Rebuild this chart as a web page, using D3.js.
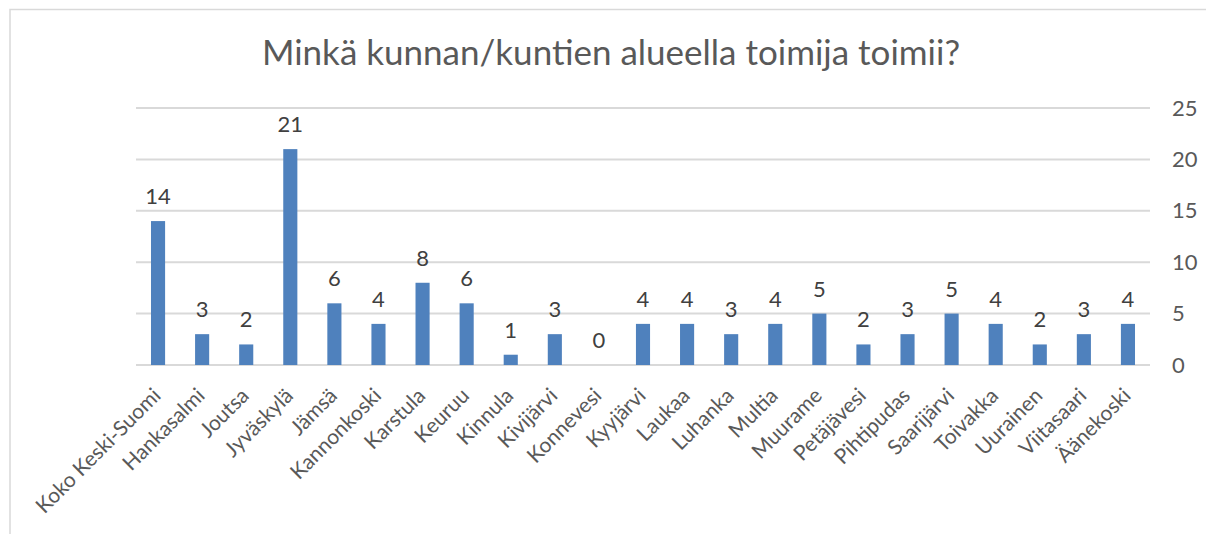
<!DOCTYPE html>
<html>
<head>
<meta charset="utf-8">
<script src="https://cdnjs.cloudflare.com/ajax/libs/d3/7.8.5/d3.min.js"></script>
<style>
  body { margin: 0; background: #fff; }
  text { font-family: Lato, "Open Sans", sans-serif; }
</style>
</head>
<body>
<div id="chart"></div>
<script>
var svgWidth = 1206;
var svgHeight = 534;

var title = "Minkä kunnan/kuntien alueella toimija toimii?";

var kunnat = ["Koko Keski-Suomi", "Hankasalmi", "Joutsa", "Jyväskylä", "Jämsä", "Kannonkoski",
  "Karstula", "Keuruu", "Kinnula", "Kivijärvi", "Konnevesi", "Kyyjärvi", "Laukaa", "Luhanka",
  "Multia", "Muurame", "Petäjävesi", "Pihtipudas", "Saarijärvi", "Toivakka", "Uurainen",
  "Viitasaari", "Äänekoski"];
var maarat = [14, 3, 2, 21, 6, 4, 8, 6, 1, 3, 0, 4, 4, 3, 4, 5, 2, 3, 5, 4, 2, 3, 4];
var yTicks = [0, 5, 10, 15, 20, 25];

var margin = { top: 108, right: 56, bottom: 169, left: 136 };
var width = svgWidth - margin.left - margin.right;
var height = svgHeight - margin.top - margin.bottom;

var svg = d3.select("#chart")
  .append("svg")
  .attr("width", svgWidth)
  .attr("height", svgHeight);

// chart frame
svg.append("rect")
  .attr("x", 10).attr("y", 9.5)
  .attr("width", 1220).attr("height", 540)
  .attr("fill", "none")
  .attr("stroke", "#d9d9d9")
  .attr("stroke-width", 1.5);

svg.append("text")
  .attr("x", 611)
  .attr("y", 65)
  .attr("text-anchor", "middle")
  .attr("font-size", "35px")
  .attr("fill", "#595959")
  .text(title);

var chartGroup = svg.append("g")
  .attr("transform", `translate(${margin.left}, ${margin.top})`);

var xScale = d3.scaleBand()
  .domain(kunnat)
  .range([0, width])
  .paddingInner(0.68)
  .paddingOuter(0.34);

var yScale = d3.scaleLinear()
  .domain([0, 25])
  .range([height, 0]);

// gridlines
chartGroup.selectAll(".grid")
  .data(yTicks)
  .enter()
  .append("line")
  .attr("x1", 0)
  .attr("x2", width)
  .attr("y1", d => yScale(d))
  .attr("y2", d => yScale(d))
  .attr("stroke", "#d9d9d9")
  .attr("stroke-width", 2);

// right axis
var yAxis = d3.axisRight(yScale).tickValues(yTicks).tickSize(0).tickPadding(22);
var yAxisG = chartGroup.append("g")
  .attr("transform", `translate(${width}, 0)`)
  .call(yAxis);
yAxisG.select(".domain").remove();
yAxisG.selectAll("text")
  .attr("font-size", "22px")
  .attr("fill", "#595959")
  .attr("font-family", "Lato, sans-serif");

// bars
chartGroup.selectAll("rect.bar")
  .data(maarat)
  .enter()
  .append("rect")
  .attr("class", "bar")
  .attr("x", (d, i) => xScale(kunnat[i]))
  .attr("y", d => yScale(d))
  .attr("width", xScale.bandwidth())
  .attr("height", d => height - yScale(d))
  .attr("fill", "#4f81bd");

// value labels
chartGroup.selectAll("text.val")
  .data(maarat)
  .enter()
  .append("text")
  .attr("class", "val")
  .attr("x", (d, i) => xScale(kunnat[i]) + xScale.bandwidth() / 2)
  .attr("y", d => yScale(d) - 17)
  .attr("text-anchor", "middle")
  .attr("font-size", "22px")
  .attr("fill", "#404040")
  .text(d => d);

// category labels
chartGroup.selectAll("text.cat")
  .data(kunnat)
  .enter()
  .append("text")
  .attr("class", "cat")
  .attr("transform", d => `translate(${xScale(d) + xScale.bandwidth() / 2 + 4}, ${height + 32}) rotate(-45)`)
  .attr("text-anchor", "end")
  .attr("font-size", "21px")
  .attr("fill", "#595959")
  .text(d => d);
</script>
</body>
</html>
